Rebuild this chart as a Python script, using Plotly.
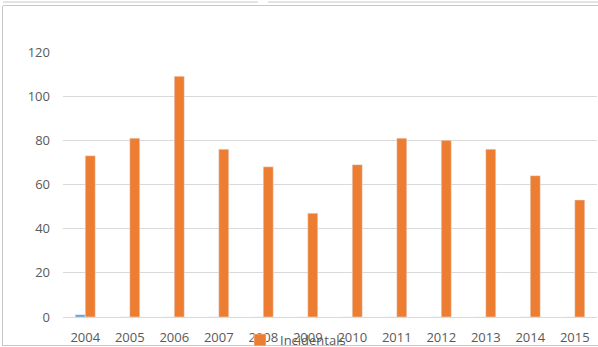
import plotly.graph_objects as go

years = ["2004", "2005", "2006", "2007", "2008", "2009", "2010", "2011", "2012", "2013", "2014", "2015"]
incidentals = [73, 81, 109, 76, 68, 47, 69, 81, 80, 76, 64, 53]
other = [1, 0, 0, 0, 0, 0, 0, 0, 0, 0, 0, 0]
y_ticks = [0, 20, 40, 60, 80, 100, 120]

W, H = 598, 347
L, R, T, B = 63, 1, 52, 30
PW, PH = W - L - R, H - T - B

def px(x):
    return (x - L) / PW

def py(y):
    return (H - B - y) / PH

fig = go.Figure()
fig.add_trace(go.Bar(x=years, y=other, name="Series1", marker_color="#5B9BD5",
                     showlegend=False))
fig.add_trace(go.Bar(x=years, y=incidentals, name="Incidentals", marker_color="#ED7D31"))

line = dict(color="#C8C8C8", width=1)
shapes = [
    dict(type="line", xref="paper", yref="paper", x0=px(2.5), x1=px(2.5), y0=py(6), y1=py(345), line=line),
    dict(type="line", xref="paper", yref="paper", x0=px(3), x1=px(598), y0=py(5.5), y1=py(5.5), line=line),
    dict(type="line", xref="paper", yref="paper", x0=px(3), x1=px(258), y0=py(2), y1=py(2), line=line),
    dict(type="line", xref="paper", yref="paper", x0=px(268), x1=px(598), y0=py(2), y1=py(2), line=line),
    dict(type="line", xref="paper", yref="paper", x0=px(2), x1=px(598), y0=py(345.5), y1=py(345.5), line=line),
]

fig.update_layout(
    width=W, height=H,
    margin=dict(l=L, r=R, t=T, b=B, autoexpand=False),
    paper_bgcolor="white", plot_bgcolor="white",
    barmode="group", bargap=0.55, bargroupgap=0,
    font=dict(family="Open Sans, Calibri, sans-serif", size=13, color="#595959"),
    xaxis=dict(showgrid=False, showline=True, linecolor="#D9D9D9", linewidth=1,
               ticks="", ticklabelstandoff=8, fixedrange=True, automargin=False),
    yaxis=dict(range=[0, 120], tickvals=y_ticks, showgrid=True, gridcolor="#D9D9D9",
               gridwidth=1, zeroline=False, showline=False, ticks="",
               ticklabelstandoff=12, fixedrange=True, automargin=False),
    showlegend=True,
    legend=dict(orientation="h", xref="container", yref="container",
                x=240 / W, y=(H - 325) / H, xanchor="left", yanchor="top",
                bgcolor="rgba(0,0,0,0)", font=dict(size=13, color="#595959"),
                itemwidth=30),
    shapes=shapes,
)

fig.write_html("out.html")
